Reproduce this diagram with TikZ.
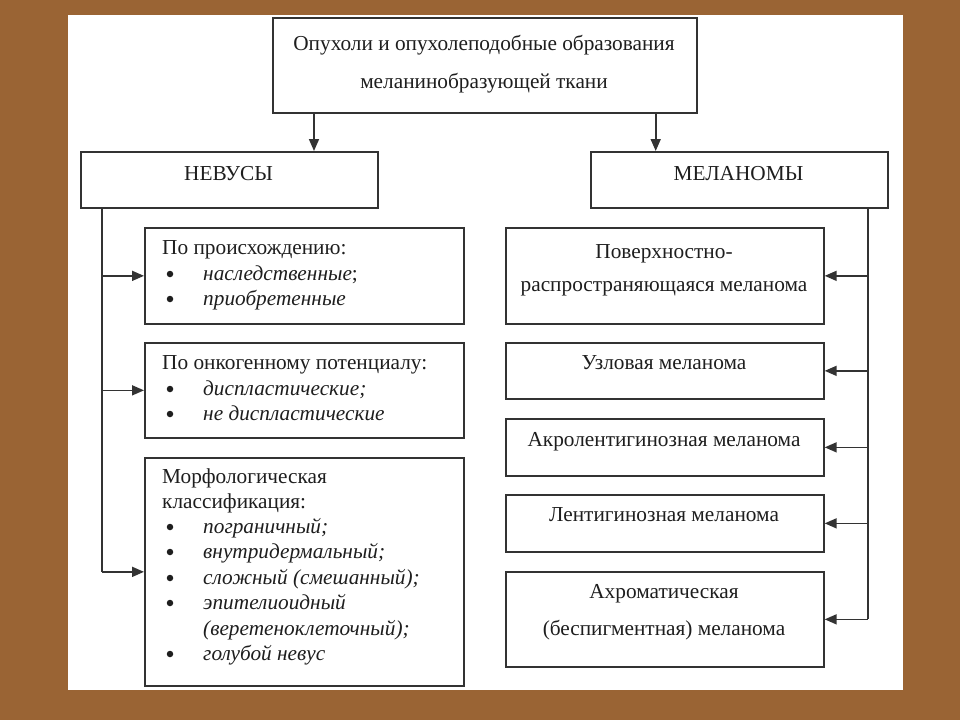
\documentclass[tikz,border=0pt]{standalone}
\usepackage{fontspec}
\setmainfont{Liberation Serif}
\usetikzlibrary{arrows.meta}
\newcommand\myfs{\fontsize{21.3}{25}\selectfont}
\definecolor{bgbrown}{HTML}{9A6434}
\definecolor{ink}{HTML}{1E1E1E}
\definecolor{lineink}{HTML}{333333}
\tikzset{
  box/.style={draw=lineink, line width=1.7pt, rectangle, inner sep=0pt, anchor=north west, fill=white},
  txt/.style={font=\myfs, text=ink, inner sep=0pt, anchor=base},
  ltx/.style={font=\myfs, text=ink, inner sep=0pt, anchor=base west},
  itx/.style={font=\myfs\itshape, text=ink, inner sep=0pt, anchor=base west},
  bul/.style={circle, fill=ink, inner sep=0pt, minimum size=6.5pt},
  conn/.style={draw=lineink, line width=1.7pt},
  arr/.style={conn, -{Triangle[length=12pt,width=10pt]}}
}
\begin{document}
\begin{tikzpicture}[x=1pt,y=-1pt]
\useasboundingbox (0,0) rectangle (960,720);
\fill[bgbrown] (0,0) rectangle (960,720);
\fill[white] (68,15) rectangle (903,690);

% boxes
\node[box, minimum width=424pt, minimum height=95pt] (top) at (272,17) {};
\node[box, minimum width=297pt, minimum height=56pt] (nev) at (80,151) {};
\node[box, minimum width=297pt, minimum height=56pt] (mel) at (590,151) {};
\node[box, minimum width=319pt, minimum height=96pt] (L1) at (144,227) {};
\node[box, minimum width=319pt, minimum height=95pt] (L2) at (144,342) {};
\node[box, minimum width=319pt, minimum height=228pt] (L3) at (144,457) {};
\node[box, minimum width=318pt, minimum height=96pt] (R1) at (505,227) {};
\node[box, minimum width=318pt, minimum height=56pt] (R2) at (505,342) {};
\node[box, minimum width=318pt, minimum height=57pt] (R3) at (505,418) {};
\node[box, minimum width=318pt, minimum height=57pt] (R4) at (505,494) {};
\node[box, minimum width=318pt, minimum height=95pt] (R5) at (505,571) {};

% texts
\node[txt] (t1) at (484,50) {Опухоли и опухолеподобные образования};
\node[txt] (t2) at (484,88) {меланинобразующей ткани};
\node[txt] (tn) at (228.5,180) {НЕВУСЫ};
\node[txt] (tm) at (738.5,180) {МЕЛАНОМЫ};

\node[ltx] (a0) at (162,254) {По происхождению:};
\node[bul] (a1b) at (170,274) {};
\node[itx] (a1) at (203,280) {наследственные\upshape;};
\node[bul] (a2b) at (170,299) {};
\node[itx] (a2) at (203,305) {приобретенные};

\node[ltx] (b0) at (162,369) {По онкогенному потенциалу:};
\node[bul] (b1b) at (170,389) {};
\node[itx] (b1) at (203,395) {диспластические;};
\node[bul] (b2b) at (170,414) {};
\node[itx] (b2) at (203,420) {не диспластические};

\node[ltx] (c0) at (162,483) {Морфологическая};
\node[ltx] (c00) at (162,508) {классификация:};
\node[bul] (c1b) at (170,527) {};
\node[itx] (c1) at (203,533) {пограничный;};
\node[bul] (c2b) at (170,552) {};
\node[itx] (c2) at (203,558) {внутридермальный;};
\node[bul] (c3b) at (170,578) {};
\node[itx] (c3) at (203,584) {сложный (смешанный);};
\node[bul] (c4b) at (170,603) {};
\node[itx] (c4) at (203,609) {эпителиоидный};
\node[itx] (c4a) at (203,635) {(веретеноклеточный);};
\node[bul] (c5b) at (170,654) {};
\node[itx] (c5) at (203,660) {голубой невус};

\node[txt] (r1a) at (664,258) {Поверхностно-};
\node[txt] (r1b) at (664,291) {распространяющаяся меланома};
\node[txt] (r2) at (664,369) {Узловая меланома};
\node[txt] (r3) at (664,446) {Акролентигинозная меланома};
\node[txt] (r4) at (664,521) {Лентигинозная меланома};
\node[txt] (r5a) at (664,598) {Ахроматическая};
\node[txt] (r5b) at (664,635) {(беспигментная) меланома};

% connectors from top
\draw[arr] ([xshift=42pt]top.south west) -- ([xshift=42pt]top.south west |- nev.north);
\draw[arr] ([xshift=-42pt]top.south east) -- ([xshift=-42pt]top.south east |- mel.north);

% left trunk
\coordinate (lt) at ([xshift=22pt]nev.south west);
\draw[conn] (lt) -- (lt |- L3.west);
\draw[arr] (lt |- L1.west) -- (L1.west);
\draw[arr] (lt |- L2.west) -- (L2.west);
\draw[arr] (lt |- L3.west) -- (L3.west);

% right trunk
\coordinate (rt) at ([xshift=-21pt]mel.south east);
\draw[conn] (rt) -- (rt |- R5.east);
\draw[arr] (rt |- R1.east) -- (R1.east);
\draw[arr] (rt |- R2.east) -- (R2.east);
\draw[arr] (rt |- R3.east) -- (R3.east);
\draw[arr] (rt |- R4.east) -- (R4.east);
\draw[arr] (rt |- R5.east) -- (R5.east);
\end{tikzpicture}
\end{document}
